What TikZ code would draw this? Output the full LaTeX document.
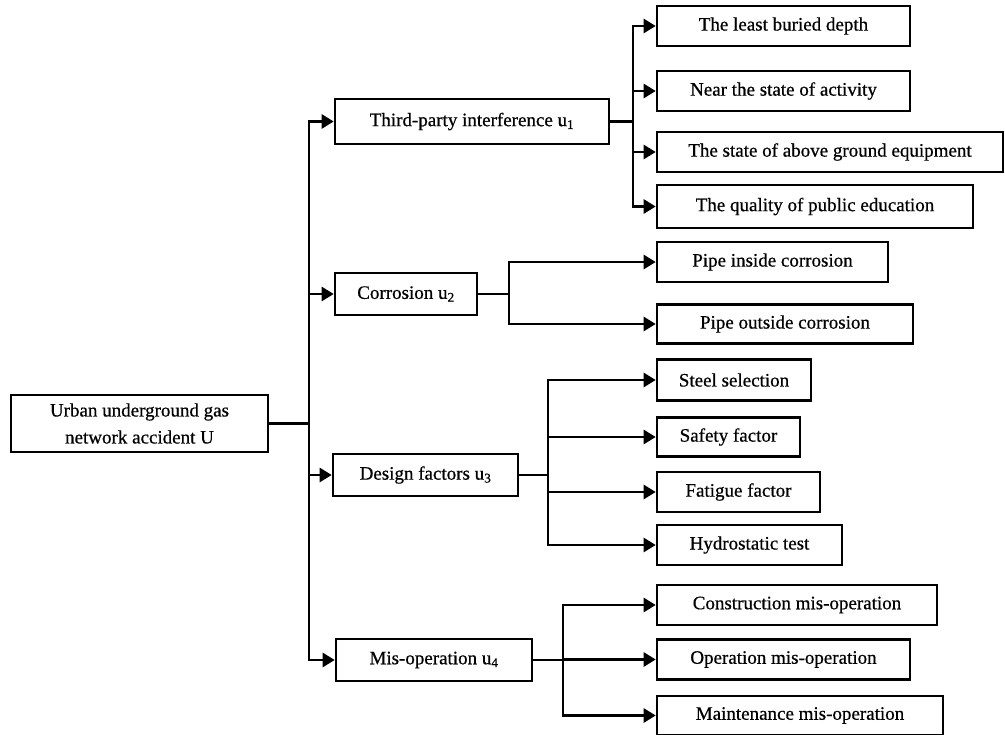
\documentclass[tikz,border=0pt]{standalone}
\usepackage{fontspec}
\setmainfont{Liberation Serif}[FakeBold=0.6]
\usepackage{tikz}
\usetikzlibrary{arrows.meta}

\tikzset{
    box/.style={draw, line width=2.6pt, inner sep=2pt, align=center,
        font=\fontsize{19}{27}\selectfont},
    link/.style={line width=2.6pt},
    arr/.style={line width=2.6pt, -{Triangle[length=12pt,width=14pt]}}
}

\begin{document}
\begin{tikzpicture}[x=1pt,y=-1pt]
            \useasboundingbox (0,0) rectangle (1005,735);

            % root and first level
            \node[box, minimum width=257pt, minimum height=57pt] (root) at (139.5,423.5) {Urban underground gas\\network accident U};
            \node[box, minimum width=274pt, minimum height=45pt] (u1) at (472,121.5) {Third-party interference u\textsubscript{1}};
            \node[box, minimum width=142pt, minimum height=42pt] (u2) at (406,294) {Corrosion u\textsubscript{2}};
            \node[box, minimum width=185pt, minimum height=42pt] (u3) at (425.5,475) {Design factors u\textsubscript{3}};
            \node[box, minimum width=196pt, minimum height=42pt] (u4) at (434,660) {Mis-operation u\textsubscript{4}};

            % second level
            \node[box, minimum width=253pt, minimum height=40pt] (c11) at (783.5,26) {The least buried depth};
            \node[box, minimum width=253pt, minimum height=40pt] (c12) at (783.5,91) {Near the state of activity};
            \node[box, minimum width=346pt, minimum height=40pt] (c13) at (830,152) {The state of above ground equipment};
            \node[box, minimum width=316pt, minimum height=43pt] (c14) at (815,206.5) {The quality of public education};

            \node[box, minimum width=231pt, minimum height=40pt] (c21) at (772.5,262) {Pipe inside corrosion};
            \node[box, minimum width=256pt, minimum height=39pt] (c22) at (785,324) {Pipe outside corrosion};

            \node[box, minimum width=154pt, minimum height=41pt] (c31) at (734,380) {Steel selection};
            \node[box, minimum width=143pt, minimum height=39pt] (c32) at (728.5,437) {Safety factor};
            \node[box, minimum width=163pt, minimum height=40pt] (c33) at (738.5,492) {Fatigue factor};
            \node[box, minimum width=185pt, minimum height=40pt] (c34) at (749.5,545) {Hydrostatic test};

            \node[box, minimum width=280pt, minimum height=40pt] (c41) at (797,605) {Construction mis-operation};
            \node[box, minimum width=253pt, minimum height=40pt] (c42) at (783.5,659.5) {Operation mis-operation};
            \node[box, minimum width=286pt, minimum height=39pt] (c43) at (800,715.5) {Maintenance mis-operation};

            % branch points
            \coordinate (t0) at (309,423.5);
            \coordinate (b1) at (633,121.5);
            \coordinate (b2) at (509,294);
            \coordinate (b3) at (548,475);
            \coordinate (b4) at (563,660);

            \draw[link] (root.east) -- (t0);
            \foreach \u in {u1,u2,u3,u4}
                \draw[arr] (t0) |- (\u.west);

            \draw[link] (u1.east) -- (b1);
            \foreach \c in {c11,c12,c13,c14}
                \draw[arr] (b1) |- (\c.west);

            \draw[link] (u2.east) -- (b2);
            \foreach \c in {c21,c22}
                \draw[arr] (b2) |- (\c.west);

            \draw[link] (u3.east) -- (b3);
            \foreach \c in {c31,c32,c33,c34}
                \draw[arr] (b3) |- (\c.west);

            \draw[link] (u4.east) -- (b4);
            \foreach \c in {c41,c42,c43}
                \draw[arr] (b4) |- (\c.west);
        \end{tikzpicture}
\end{document}
